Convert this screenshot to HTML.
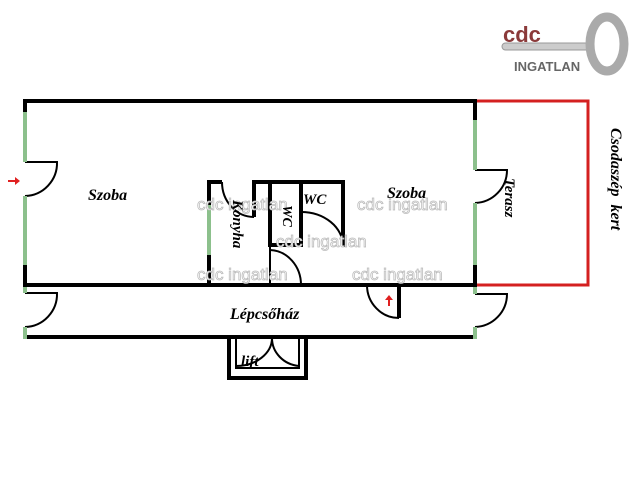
<!DOCTYPE html>
<html><head><meta charset="utf-8"><style>
body{margin:0;background:#fff}
svg{display:block}
text{font-family:"Liberation Serif",serif;font-style:italic;font-weight:bold}
.wm{font-family:"Liberation Sans",sans-serif;font-style:normal;font-weight:normal;fill:#fff;stroke:#bbb;stroke-width:0.8;font-size:17px}
</style></head><body>
<svg width="640" height="480" viewBox="0 0 640 480">
<g stroke="#000" stroke-width="4" fill="none">
<line x1="23" y1="101" x2="477" y2="101"/>
<line x1="23" y1="285" x2="477" y2="285"/>
<line x1="23" y1="337" x2="477" y2="337"/>
<line x1="25" y1="99" x2="25" y2="112"/>
<line x1="25" y1="265" x2="25" y2="285"/>
<line x1="475" y1="99" x2="475" y2="120"/>
<line x1="475" y1="265" x2="475" y2="285"/>
<line x1="209" y1="182" x2="209" y2="205"/>
<line x1="209" y1="255" x2="209" y2="287"/>
<line x1="207" y1="182" x2="222" y2="182"/>
<line x1="254" y1="182" x2="345" y2="182"/>
<line x1="254" y1="180" x2="254" y2="217"/>
<line x1="270" y1="180" x2="270" y2="247"/>
<line x1="301" y1="180" x2="301" y2="247"/>
<line x1="270" y1="245" x2="301" y2="245"/>
<line x1="343" y1="180" x2="343" y2="247"/>
<line x1="399" y1="283" x2="399" y2="318"/>
<polyline points="229,337 229,378 306,378 306,337"/>
</g>
<g stroke="#000" stroke-width="2" fill="none">
<polyline points="236,337 236,368 299,368 299,337"/>
<path d="M25,162 H57 A33,33 0 0 1 25,196"/>
<path d="M25,293 H57 A33,33 0 0 1 25,327"/>
<path d="M475,170 H507 A33,33 0 0 1 475,203"/>
<path d="M475,294 H507 A33,33 0 0 1 475,327"/>
<path d="M222,182 A32,35 0 0 0 254,217"/>
<path d="M301,212 A42,34 0 0 1 343,246"/>
<path d="M270,250 A32,35 0 0 1 301,285"/>
<path d="M367,285 A32,33 0 0 0 399,318"/>
<path d="M236,366 A36,28 0 0 0 272,338 A30,28 0 0 0 299,366"/>
<line x1="272" y1="338" x2="272" y2="345"/>
<line x1="270" y1="247" x2="270" y2="285"/>
</g>
<g stroke="#8cc08c" stroke-width="4">
<line x1="25" y1="112" x2="25" y2="162"/>
<line x1="25" y1="196" x2="25" y2="265"/>
<line x1="25" y1="287" x2="25" y2="293"/>
<line x1="25" y1="327" x2="25" y2="339"/>
<line x1="475" y1="120" x2="475" y2="170"/>
<line x1="475" y1="203" x2="475" y2="265"/>
<line x1="475" y1="287" x2="475" y2="294"/>
<line x1="475" y1="327" x2="475" y2="339"/>
<line x1="209" y1="205" x2="209" y2="255"/>
</g>
<polyline points="477,101 588,101 588,285 477,285" stroke="#d42020" stroke-width="3" fill="none"/>
<path d="M8,180 h7 v-3 l5,4 l-5,4 v-3 h-7z" fill="#e02020"/>
<path d="M388,306 v-6 h-3 l4,-5 l4,5 h-3 v6z" fill="#e02020"/>
<text class="wm" x="197" y="210">cdc ingatlan</text>
<text class="wm" x="276" y="247">cdc ingatlan</text>
<text class="wm" x="197" y="280">cdc ingatlan</text>
<text class="wm" x="357" y="210">cdc ingatlan</text>
<text class="wm" x="352" y="280">cdc ingatlan</text>
<text x="88" y="200" font-size="16">Szoba</text>
<text x="387" y="198" font-size="16">Szoba</text>
<text x="230" y="319" font-size="16">Lépcsőház</text>
<text x="303" y="204" font-size="15">WC</text>
<text x="241" y="366" font-size="15">lift</text>
<text font-size="15" transform="translate(233,200) rotate(90)">Konyha</text>
<text font-size="14" transform="translate(283,205) rotate(90)">WC</text>
<text font-size="15" transform="translate(505,178) rotate(90)">Terasz</text>
<text font-size="16" transform="translate(611,128) rotate(90)">Csodaszép&#160;&#160;kert</text>
<g>
<rect x="502" y="43" width="92" height="7" rx="3.5" fill="#ccc" stroke="#999"/>
<ellipse cx="607" cy="44" rx="17" ry="27" fill="none" stroke="#aaa" stroke-width="9"/>
<text x="503" y="42" font-size="22" fill="#8b3a3a" style="font-family:'Liberation Sans',sans-serif;font-style:normal;font-weight:bold">cdc</text>
<text x="514" y="71" font-size="13" fill="#666" style="font-family:'Liberation Sans',sans-serif;font-style:normal;font-weight:bold">INGATLAN</text>
</g>
</svg>
</body></html>
